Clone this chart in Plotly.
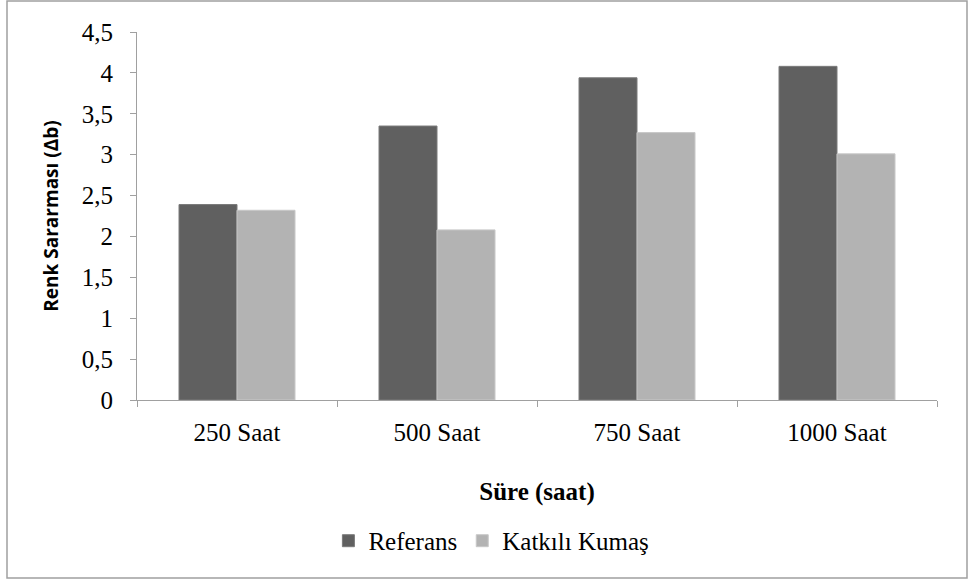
import plotly.graph_objects as go

categories = ["250 Saat", "500 Saat", "750 Saat", "1000 Saat"]
referans = [2.39, 3.35, 3.94, 4.08]
katkili = [2.32, 2.08, 3.27, 3.01]
y_ticks = [0, 0.5, 1, 1.5, 2, 2.5, 3, 3.5, 4, 4.5]

serif = "Liberation Serif, Times New Roman, DejaVu Serif, serif"
fig = go.Figure()
fig.add_trace(go.Bar(x=categories, y=referans, name="Referans",
                     marker=dict(color="#606060", line=dict(color="#7a7a7a", width=1))))
fig.add_trace(go.Bar(x=categories, y=katkili, name="Katkılı Kumaş",
                     marker=dict(color="#b3b3b3", line=dict(color="#c8c8c8", width=1))))

fig.update_layout(
    width=968, height=580,
    margin=dict(l=137, r=31, t=32, b=180),
    paper_bgcolor="white", plot_bgcolor="white",
    separators=",.",
    barmode="group", bargap=0.42, bargroupgap=0,
    font=dict(family=serif, size=25, color="black"),
    showlegend=True,
    legend=dict(orientation="h", x=0.443, xanchor="center", y=-0.383, yanchor="middle",
                font=dict(family=serif, size=25), itemwidth=30, tracegroupgap=0),
    xaxis=dict(
        showline=True, linecolor="#a0a0a0", linewidth=1,
        ticks="outside", ticklen=6, tickcolor="#a0a0a0", tickson="boundaries",
        tickfont=dict(family=serif, size=25), ticklabelstandoff=10,
        title=dict(text="<b>Süre (saat)</b>", font=dict(family=serif, size=25), standoff=37),
        showgrid=False,
    ),
    yaxis=dict(
        range=[0, 4.5], tickvals=y_ticks,
        showline=True, linecolor="#a0a0a0", linewidth=1,
        ticks="outside", ticklen=6, tickcolor="#a0a0a0",
        tickfont=dict(family=serif, size=25), ticklabelstandoff=12,
        title=dict(text="<b>Renk Sararması (Δb)</b>", font=dict(family="Open Sans", size=19), standoff=18),
        showgrid=False, zeroline=False,
    ),
    shapes=[dict(type="rect", xref="paper", yref="paper",
                 x0=-0.1625, x1=1.0375, y0=-0.4837, y1=1.084,
                 line=dict(color="#a0a0a0", width=1.5))],
)

fig.write_html("out.html", config={"displayModeBar": False},
               post_script="document.body.style.margin='0';document.body.style.overflow='hidden';")
